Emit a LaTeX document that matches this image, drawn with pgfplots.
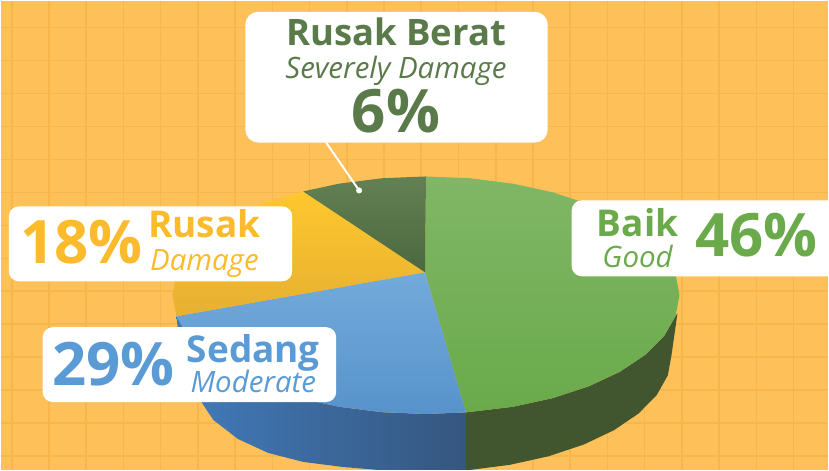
\documentclass[border=0pt]{standalone}
\usepackage{pgfplots}
\pgfplotsset{compat=1.18}
\usepackage{fontspec}
\setmainfont{Open Sans}
\definecolor{bgc}{HTML}{FEC15A}
\definecolor{gridc}{HTML}{F6B64B}
\definecolor{cg}{HTML}{6AAA4B}
\definecolor{cb}{HTML}{5B9BD5}
\definecolor{cy}{HTML}{FBBB2C}
\definecolor{cd}{HTML}{5A7A4A}
\definecolor{wbl}{HTML}{427BBB}
\definecolor{wbr}{HTML}{35567F}
\definecolor{wg}{HTML}{41552F}
\definecolor{yt}{HTML}{FFC72C}
\definecolor{yb}{HTML}{E6B033}
\newcommand{\lab}[6]{\node[anchor=base,inner sep=0pt,text=#1,font=\fontsize{#2}{#2}\selectfont#3] at (axis cs:#4,#5) {#6};}
\begin{document}
\begin{tikzpicture}
\begin{axis}[
  scale only axis, width=829pt, height=470pt,
  xmin=0, xmax=829, ymin=0, ymax=470, y dir=reverse,
  axis line style={draw=none}, major tick length=0pt,
  xtick={11,48.3,85.6,122.9,160.2,197.5,234.8,272.1,309.4,346.7,384,421.3,458.6,495.9,533.2,570.5,607.8,645.1,682.4,719.7,757,794.3},
  ytick={26.7,60,93,126,159,192,225,258,291,324,357,390,423,456},
  xticklabels={}, yticklabels={},
  tick label style={overlay},
  grid=major, grid style={draw=gridc, line width=1.6pt},
  axis background/.style={fill=bgc},
  clip=true
]
% side wall, green
\addplot[draw=none, fill=wg] coordinates {
 (678,313)(676.1,315.7)(664.7,335.7)(646,354.5)(620.6,371.5)(589.3,386.2)(553,398.1)(512.9,406.8)(466,412.4)
 (466,471)(468.7,470.2)(510.1,464.9)(549,456.3)(584.1,444.6)(614.4,430.2)(639,413.5)(657.2,395)(668.3,375.3)(672,355)(678,313)} -- cycle;
% side wall, blue
\addplot[draw=none, shade, left color=wbl, right color=wbr] coordinates {
 (466,412.4)(426,414)(381.9,412.2)(339.1,406.8)(299,398.1)(262.7,386.2)(231.4,371.5)(206,354.5)(187.3,335.7)(176,316)
 (180,355)(183.7,375.3)(195,393)(213,420)(237.6,439)(267.9,453)(303,462)(341.9,467)(383.3,470.5)(426,472)(466,471)} -- cycle;
% top faces
\addplot[draw=none, shade, top color=cg!85!white, bottom color=cg] coordinates {
 (425,272)(426,176)(470.1,177.8)(512.9,183.2)(553,191.9)(589.3,203.8)(620.6,218.5)(646,235.5)(664.7,254.3)(676.1,274.3)(680,295)
 (676.1,315.7)(664.7,335.7)(646,354.5)(620.6,371.5)(589.3,386.2)(553,398.1)(512.9,406.8)(466,412.4)} -- cycle;
\addplot[draw=none, shade, top color=cb!85!white, bottom color=cb!95!black] coordinates {
 (425,272)(466,412.4)(426,414)(381.9,412.2)(339.1,406.8)(299,398.1)(262.7,386.2)(231.4,371.5)(206,354.5)(187.3,335.7)(176,316)} -- cycle;
\addplot[draw=none, shade, top color=yt, bottom color=yb] coordinates {
 (425,272)(176,316)(172,295)(175.9,274.3)(187.3,254.3)(206,235.5)(231.4,218.5)(262.7,203.8)(303,191)} -- cycle;
\addplot[draw=none, shade, top color=cd!95!white, bottom color=cd!85!black] coordinates {
 (425,272)(303,191)(339.1,183.2)(381.9,177.8)(426,176)} -- cycle;
% leader
\draw[white, line width=2pt] (axis cs:326,142) -- (axis cs:359,190);
\fill[white] (axis cs:359,190) circle (3pt);
% boxes
\fill[white, rounded corners=13pt] (axis cs:245,11) rectangle (axis cs:548,142);
\fill[white, rounded corners=10pt] (axis cs:8,206) rectangle (axis cs:292,281);
\fill[white, rounded corners=10pt] (axis cs:42,327) rectangle (axis cs:336,402);
\fill[white, rounded corners=10pt] (axis cs:572,200) rectangle (axis cs:845,276);
% text
\lab{cd}{36.5}{\bfseries}{396}{45}{Rusak Berat}
\lab{cd}{29.5}{\itshape}{396}{78}{Severely Damage}
\lab{cd}{60}{\bfseries}{396}{132}{6\%}
\lab{cy}{60}{\bfseries}{81}{263}{18\%}
\lab{cy}{37}{\bfseries}{204}{237}{Rusak}
\lab{cy}{29.5}{\itshape}{204}{270}{Damage}
\lab{cb}{60}{\bfseries}{113}{385}{29\%}
\lab{cb}{37}{\bfseries}{253}{362}{Sedang}
\lab{cb}{29.5}{\itshape}{253}{392}{Moderate}
\lab{cg}{37}{\bfseries}{638}{236}{Baik}
\lab{cg}{29.5}{\itshape}{638}{267}{Good}
\lab{cg}{60}{\bfseries}{757}{256}{46\%}
\end{axis}
\end{tikzpicture}
\end{document}
